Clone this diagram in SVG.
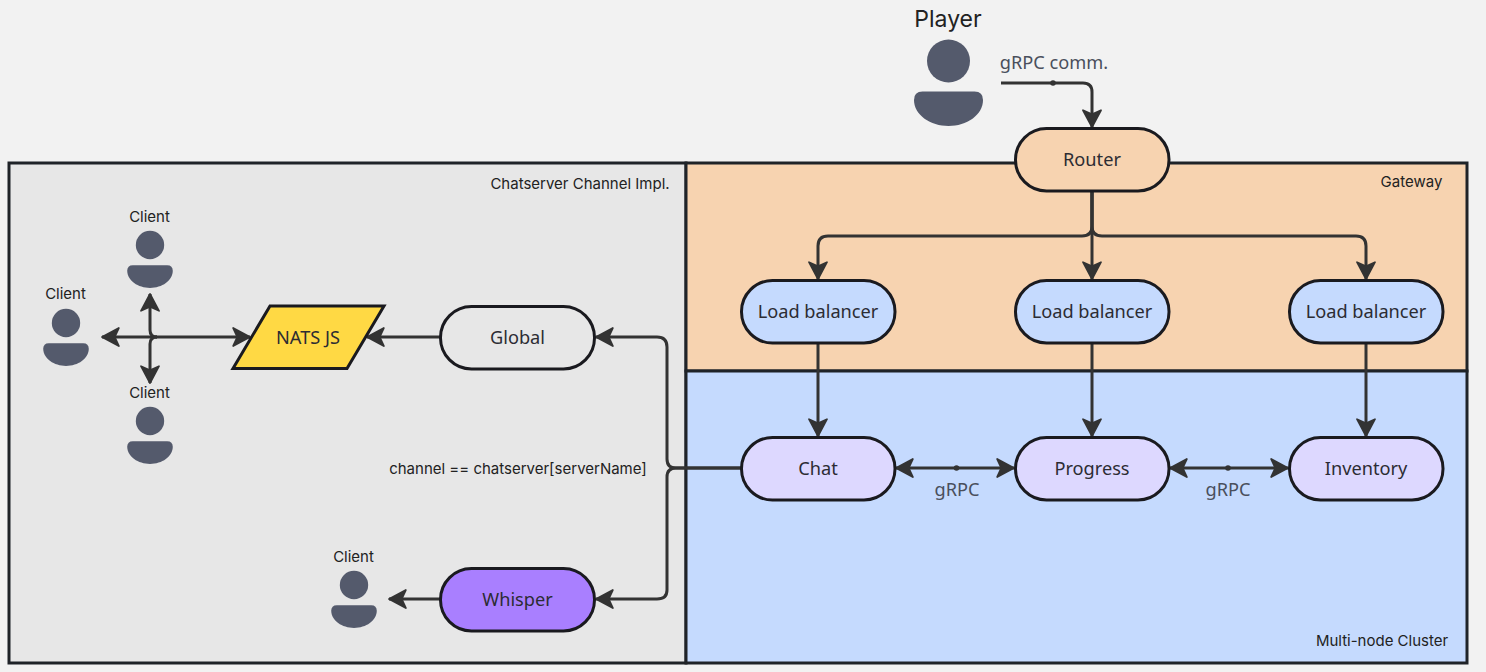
<svg xmlns="http://www.w3.org/2000/svg" width="1486" height="672" viewBox="0 0 1486 672">
<style>
.frame{stroke:#1f2328;stroke-width:3}
.n{stroke:#1a1a1f;stroke-width:3}
.c{fill:none;stroke:#333;stroke-width:3}
.t{font-family:"Noto Sans",sans-serif;font-size:18.200px;fill:#2c2c33;text-anchor:middle}
.g{font-family:"Noto Sans",sans-serif;font-size:18.200px;fill:#4a4f5c;text-anchor:middle}
.s{font-family:"Inter","Liberation Sans",sans-serif;font-size:15px;fill:#222;text-anchor:middle}
.p{fill:#545a6c}
</style>
<defs>
<marker id="a" markerUnits="userSpaceOnUse" markerWidth="24" markerHeight="24" refX="16" refY="10" orient="auto-start-reverse" viewBox="0 0 20 20">
<path d="M16,10 L2,2.500 L5.500,10 L2,17.500 Z" fill="#333" stroke="#333" stroke-width="1.500" stroke-linejoin="round"/>
</marker>
<g id="person">
<circle cx="0" cy="0" r="21.500"/>
<path d="M-26,30.500 H26 Q34.500,30.500 34.500,39 C34.500,54 18,65 0,65 C-18,65 -34.500,54 -34.500,39 Q-34.500,30.500 -26,30.500 Z"/>
</g>
</defs>
<rect width="1486" height="672" fill="#f2f2f2"/>
<g id="container-chatserver">
<rect x="9" y="163" width="677" height="500" fill="#e7e7e7" class="frame"/>
<text x="580" y="189" class="s">Chatserver Channel Impl.</text>
</g>
<g id="container-gateway">
<rect x="686" y="163" width="781" height="208" fill="#f7d3b0" class="frame"/>
<text x="1411.500" y="187" class="s">Gateway</text>
</g>
<g id="container-cluster">
<rect x="686" y="371" width="781" height="292" fill="#c5dafe" class="frame"/>
<text x="1382" y="646" class="s">Multi-node Cluster</text>
</g>
<g id="connectors">
<path class="c" d="M1001,83 H1083 Q1092,83 1092,92 V127" marker-end="url(#a)"/>
<circle cx="1053" cy="83" r="2.800" fill="#333"/>
<path class="c" d="M1092,191 V226 Q1092,236 1082,236 H828 Q818,236 818,246 V279" marker-end="url(#a)"/>
<path class="c" d="M1092,191 V279" marker-end="url(#a)"/>
<path class="c" d="M1092,191 V226 Q1092,236 1102,236 H1356 Q1366,236 1366,246 V279" marker-end="url(#a)"/>
<path class="c" d="M818,343 V436" marker-end="url(#a)"/>
<path class="c" d="M1092,343 V436" marker-end="url(#a)"/>
<path class="c" d="M1366,343 V436" marker-end="url(#a)"/>
<path class="c" d="M896,468 H1014" marker-start="url(#a)" marker-end="url(#a)"/>
<circle cx="956.500" cy="468" r="2.800" fill="#333"/>
<path class="c" d="M1170,468 H1288" marker-start="url(#a)" marker-end="url(#a)"/>
<circle cx="1228" cy="468" r="2.800" fill="#333"/>
<path class="c" d="M741,468 H676 Q667,468 667,459 V347 Q667,337 657,337 H596" marker-end="url(#a)"/>
<path class="c" d="M741,468 H676 Q667,468 667,477 V590 Q667,599 657,599 H596" marker-end="url(#a)"/>
<path class="c" d="M440,337 H367" marker-end="url(#a)"/>
<path class="c" d="M440,599 H389" marker-end="url(#a)"/>
<path class="c" d="M250,337 H102" marker-start="url(#a)" marker-end="url(#a)"/>
<path class="c" d="M157,337 Q150,337 150,330 V294" marker-end="url(#a)"/>
<path class="c" d="M157,337 Q150,337 150,344 V383" marker-end="url(#a)"/>
</g>
<g id="player" class="p"><use href="#person" transform="translate(948.500,61)"/><text x="948" y="27" style="font-family:Inter,'Liberation Sans',sans-serif;font-size:23px;fill:#222;text-anchor:middle">Player</text></g>
<text id="label-grpc-comm" x="1054" y="69" class="g">gRPC comm.</text>
<g id="router"><rect x="1015.500" y="128.500" width="153.500" height="62.500" rx="31" fill="#f7d3b0" class="n"/><text x="1092" y="166" class="t">Router</text></g>
<g id="lb1"><rect x="741.500" y="280.500" width="153.500" height="62.500" rx="31" fill="#c5dafe" class="n"/><text x="818" y="318" class="t">Load balancer</text></g>
<g id="lb2"><rect x="1015.500" y="280.500" width="153.500" height="62.500" rx="31" fill="#c5dafe" class="n"/><text x="1092" y="318" class="t">Load balancer</text></g>
<g id="lb3"><rect x="1289.500" y="280.500" width="153.500" height="62.500" rx="31" fill="#c5dafe" class="n"/><text x="1366" y="318" class="t">Load balancer</text></g>
<g id="chat"><rect x="741.500" y="437.500" width="153.500" height="62.500" rx="31" fill="#ddd8ff" class="n"/><text x="818" y="475" class="t">Chat</text></g>
<g id="progress"><rect x="1015.500" y="437.500" width="153.500" height="62.500" rx="31" fill="#ddd8ff" class="n"/><text x="1092" y="475" class="t">Progress</text></g>
<g id="inventory"><rect x="1289.500" y="437.500" width="153.500" height="62.500" rx="31" fill="#ddd8ff" class="n"/><text x="1366" y="475" class="t">Inventory</text></g>
<text id="label-grpc-1" x="957" y="496" class="g">gRPC</text>
<text id="label-grpc-2" x="1228" y="496" class="g">gRPC</text>
<g id="global"><rect x="440.500" y="306.500" width="154" height="62.500" rx="31" fill="#e7e7e7" class="n"/><text x="517.500" y="344" class="t">Global</text></g>
<g id="whisper"><rect x="440.500" y="568.500" width="154" height="62.500" rx="31" fill="#a97fff" class="n"/><text x="517.500" y="606" class="t">Whisper</text></g>
<g id="nats"><polygon points="270,306 384,306 347,368.500 233,368.500" fill="#ffd944" class="n"/><text x="308" y="344" class="t">NATS JS</text></g>
<text id="label-channel" x="518" y="474" class="s">channel == chatserver[serverName]</text>
<g id="client-top" class="p"><use href="#person" transform="translate(150,245) scale(.66)"/><text x="149.500" y="222" class="s">Client</text></g>
<g id="client-left" class="p"><use href="#person" transform="translate(66,323) scale(.66)"/><text x="65.500" y="299" class="s">Client</text></g>
<g id="client-bottom" class="p"><use href="#person" transform="translate(150,421) scale(.66)"/><text x="149.500" y="398" class="s">Client</text></g>
<g id="client-whisper" class="p"><use href="#person" transform="translate(354,585) scale(.66)"/><text x="353.500" y="562" class="s">Client</text></g>
</svg>
